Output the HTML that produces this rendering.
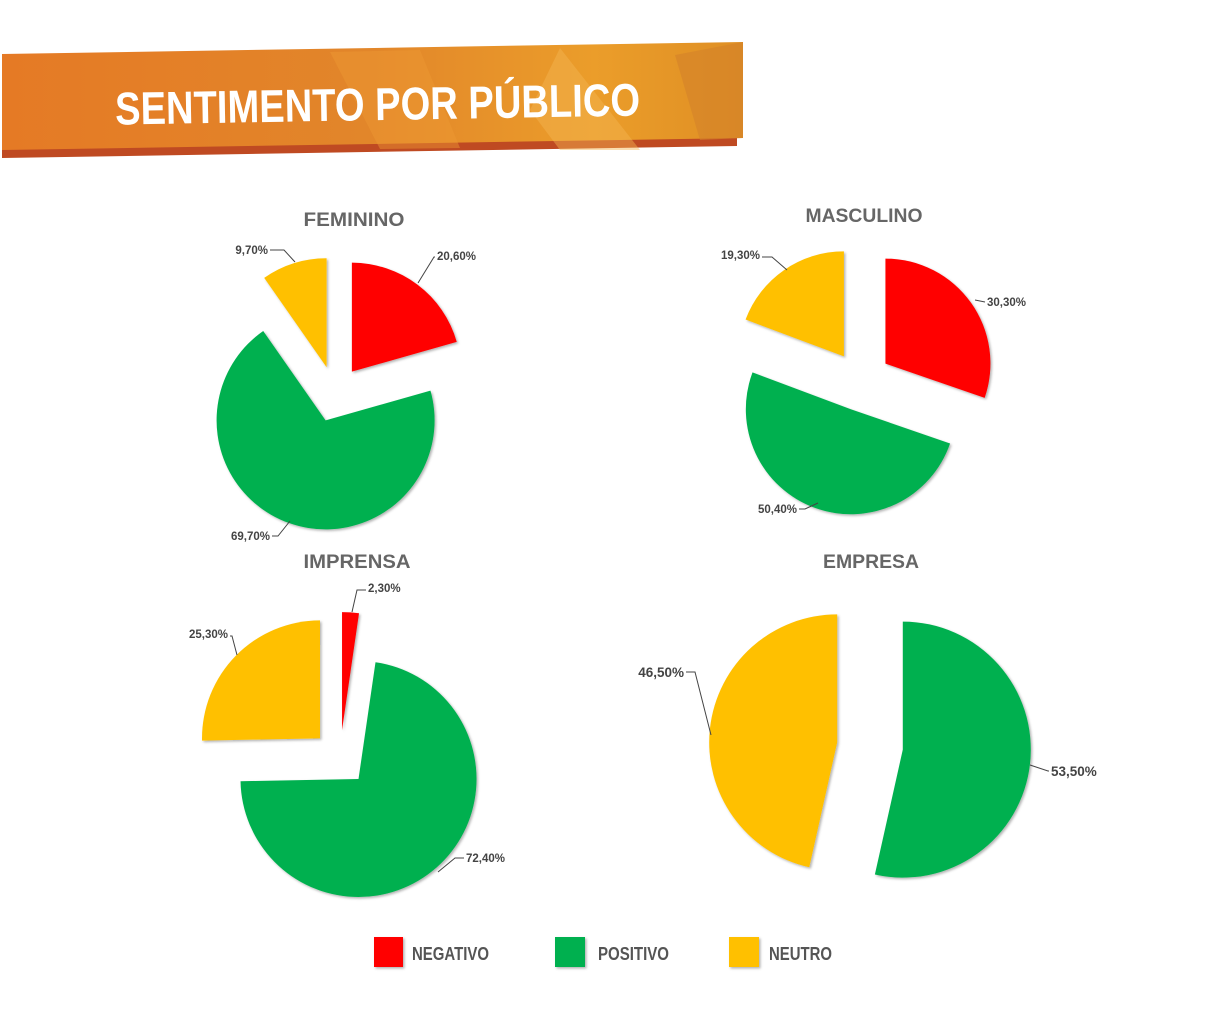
<!DOCTYPE html>
<html><head><meta charset="utf-8"><style>
html,body{margin:0;padding:0;background:#fff;}
svg{display:block;font-family:"Liberation Sans",sans-serif;}
</style></head><body>
<svg id="chart" width="1205" height="1018" viewBox="0 0 1205 1018" xmlns="http://www.w3.org/2000/svg">
<defs>
<linearGradient id="bg" x1="0" y1="0" x2="1" y2="0">
<stop offset="0" stop-color="#e57a25"/><stop offset="0.5" stop-color="#e2862a"/><stop offset="0.8" stop-color="#eb9d2a"/><stop offset="1" stop-color="#df8f24"/>
</linearGradient>
<filter id="sh" x="-20%" y="-20%" width="140%" height="140%"><feDropShadow dx="1.5" dy="1.5" stdDeviation="1.2" flood-color="#000" flood-opacity="0.3"/></filter>
</defs>
<g>
<polygon points="2,60 737,49 737,146 2,158" fill="#bf4a22"/>
<polygon points="2,54 743,42 743,138 2,150" fill="url(#bg)"/>
<polygon points="330,52 420,50 460,148 380,149" fill="#ee9a33" opacity="0.45"/>
<polygon points="530,110 560,48 640,150 560,150" fill="#f3b552" opacity="0.45"/>
<polygon points="675,55 743,42 743,138 700,140" fill="#d4822a" opacity="0.6"/>
<text x="115" y="120" font-size="46" font-weight="bold" fill="#fff" textLength="525" lengthAdjust="spacingAndGlyphs" transform="rotate(-1 380 100)">SENTIMENTO POR PÚBLICO</text>
</g>
<g id="pies"></g>
<g>
<rect x="374" y="937" width="29" height="30" fill="#ff0000" filter="url(#sh)"/>
<text x="412" y="960" font-size="18" font-weight="bold" fill="#555" textLength="77" lengthAdjust="spacingAndGlyphs">NEGATIVO</text>
<rect x="555" y="937" width="30" height="30" fill="#00b050" filter="url(#sh)"/>
<text x="598" y="960" font-size="18" font-weight="bold" fill="#555" textLength="71" lengthAdjust="spacingAndGlyphs">POSITIVO</text>
<rect x="729" y="937" width="30" height="30" fill="#ffc000" filter="url(#sh)"/>
<text x="769" y="960" font-size="18" font-weight="bold" fill="#555" textLength="63" lengthAdjust="spacingAndGlyphs">NEUTRO</text>
</g>
</svg>
<script>
// Data
const publics = ["FEMININO", "MASCULINO", "IMPRENSA", "EMPRESA"];
const negativo = [20.6, 30.3, 2.3, 0];
const positivo = [69.7, 50.4, 72.4, 53.5];
const neutro = [9.7, 19.3, 25.3, 46.5];
const sliceNames = ["negativo", "positivo", "neutro"];

// Layout (not data)
const layout = [
  {cx:335, cy:394, r:109, d:28, tx:354, ty:226, tl:101, fs:11.5,
   labels:[[[418,283],[434,257],[437,260,'start']],[[290,521],[278,536],[270,540,'end']],[[295,262],[284,250],[268,254,'end']]]},
  {cx:861, cy:381, r:105, d:30, tx:864, ty:222, tl:117, fs:11.5,
   labels:[[[975,300],[985,302],[987,306,'start']],[[818,503],[805,509],[797,513,'end']],[[787,270],[772,257],[760,259,'end']]]},
  {cx:340, cy:758, r:118, d:28, tx:357, ty:568, tl:107, fs:11.5,
   labels:[[[352,612],[357,590],[368,592,'start']],[[438,872],[455,858],[466,862,'start']],[[237,655],[232,636],[228,638,'end']]]},
  {cx:870, cy:746, r:128, d:33, tx:871, ty:568, tl:96, fs:13.5,
   labels:[null,[[1030,765],[1048,771],[1051,776,'start']],[[711,735],[695,672],[684,677,'end']]]}
];
const colors = ["#ff0000", "#00b050", "#ffc000"];
const NS = "http://www.w3.org/2000/svg";
const root = document.getElementById("pies");
function pt(cx, cy, r, deg){ const a = deg*Math.PI/180; return [cx + r*Math.sin(a), cy - r*Math.cos(a)]; }
function fmt(v){ return v.toFixed(2).replace(".", ",") + "%"; }

publics.forEach((name, i) => {
  const L = layout[i];
  const g = document.createElementNS(NS, "g");
  
  
  root.appendChild(g);
  const t = document.createElementNS(NS, "text");
  
  
  t.setAttribute("x", L.tx - L.tl/2); t.setAttribute("y", L.ty);
  t.setAttribute("font-size", "19"); t.setAttribute("font-weight", "bold"); t.setAttribute("fill", "#666");
  t.setAttribute("textLength", L.tl); t.setAttribute("lengthAdjust", "spacingAndGlyphs");
  t.textContent = name; g.appendChild(t);
  const vals = [negativo[i], positivo[i], neutro[i]];
  const total = vals.reduce((a,b)=>a+b, 0);
  let start = 0;
  vals.forEach((v, k) => {
    if (v <= 0) return;
    const sweep = v/total*360, end = start + sweep, mid = start + sweep/2;
    const [ox, oy] = pt(0, 0, L.d, mid);
    const cx = L.cx + ox, cy = L.cy + oy;
    const p1 = pt(cx, cy, L.r, start), p2 = pt(cx, cy, L.r, end);
    const path = document.createElementNS(NS, "path");
    
    
    path.setAttribute("d", `M${cx},${cy} L${p1[0]},${p1[1]} A${L.r},${L.r} 0 ${sweep>180?1:0} 1 ${p2[0]},${p2[1]} Z`);
    path.setAttribute("fill", colors[k]); path.setAttribute("filter", "url(#sh)");
    g.appendChild(path);
    const lb = L.labels[k];
    if (lb) {
      const ln = document.createElementNS(NS, "polyline");
      
      
      ln.setAttribute("points", `${lb[0][0]},${lb[0][1]} ${lb[1][0]},${lb[1][1]} ${lb[2][2]==='end'?lb[2][0]+2:lb[2][0]-2},${lb[1][1]}`);
      ln.setAttribute("fill", "none"); ln.setAttribute("stroke", "#444"); ln.setAttribute("stroke-width", "1");
      g.appendChild(ln);
      const tx = document.createElementNS(NS, "text");
      
      
      tx.setAttribute("x", lb[2][0]); tx.setAttribute("y", lb[2][1]);
      tx.setAttribute("text-anchor", lb[2][2]); tx.setAttribute("font-size", L.fs);
      tx.setAttribute("font-weight", "bold"); tx.setAttribute("fill", "#444");
      tx.textContent = fmt(v); g.appendChild(tx);
    }
    start = end;
  });
});
</script>
</body></html>
